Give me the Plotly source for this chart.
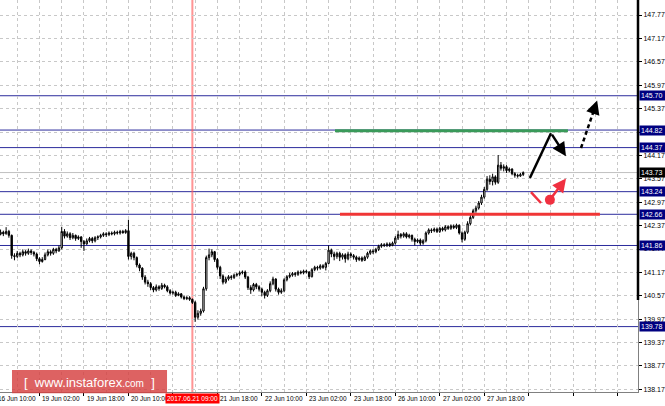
import plotly.graph_objects as go

# ---------------- data ----------------
bars = list(range(191))

opens = [
142.20,142.18,142.15,142.20,142.16,142.22,142.12,141.60,141.58,141.66,
141.62,141.70,141.66,141.72,141.68,141.64,141.52,141.45,141.50,141.62,
141.70,141.66,141.76,141.72,141.80,142.22,142.10,142.16,142.06,142.12,
142.04,142.08,141.96,141.90,141.98,142.04,141.98,142.06,142.08,142.12,
142.16,142.14,142.18,142.16,142.20,142.18,142.22,142.19,142.24,141.58,
141.66,141.55,141.36,141.28,141.05,140.92,140.88,140.78,140.72,140.80,
140.76,140.84,140.80,140.70,140.64,140.66,140.58,140.62,140.54,140.50,
140.52,140.48,140.40,140.02,140.12,140.18,140.75,141.55,141.62,141.70,
141.50,141.30,141.08,140.92,141.00,141.06,141.04,141.10,141.12,141.16,
141.18,141.05,140.78,140.72,140.86,140.80,140.74,140.66,140.58,140.70,
140.88,141.00,140.74,140.66,140.70,140.98,141.06,141.10,141.14,141.12,
141.18,141.16,141.20,141.18,141.06,141.24,141.30,141.28,141.34,141.30,
141.40,141.74,141.64,141.58,141.66,141.56,141.62,141.52,141.64,141.60,
141.56,141.50,141.54,141.48,141.56,141.66,141.72,141.70,141.76,141.84,
141.88,141.86,141.90,141.86,141.92,142.05,142.14,142.10,142.16,142.08,
142.12,142.02,141.96,142.00,141.92,141.98,142.18,142.26,142.24,142.28,
142.22,142.30,142.26,142.34,142.30,142.36,142.32,142.38,142.18,142.02,
142.20,142.42,142.58,142.75,142.82,142.95,143.10,143.30,143.56,143.50,
143.62,143.48,143.92,143.84,143.88,143.78,143.82,143.70,143.66,143.64,
143.68]

highs = [
142.26,142.22,142.27,142.24,142.33,142.26,142.14,141.66,141.72,141.70,
141.76,141.74,141.78,141.76,141.72,141.68,141.56,141.56,141.68,141.76,
141.74,141.80,141.80,141.86,142.34,142.28,142.22,142.20,142.18,142.14,
142.12,142.10,142.00,142.04,142.08,142.08,142.10,142.12,142.16,142.20,
142.20,142.22,142.22,142.24,142.24,142.26,142.26,142.28,142.52,141.70,
141.70,141.58,141.40,141.30,141.10,140.98,140.92,140.82,140.86,140.84,
140.90,140.88,140.84,140.74,140.70,140.70,140.66,140.64,140.58,140.56,
140.56,140.50,140.44,140.20,140.24,140.80,141.60,141.78,141.76,141.72,
141.54,141.34,141.12,141.06,141.10,141.10,141.14,141.16,141.20,141.22,
141.22,141.08,140.84,140.90,140.90,140.84,140.78,140.70,140.74,140.94,
141.06,141.02,140.78,140.76,141.02,141.10,141.16,141.18,141.18,141.22,
141.22,141.24,141.24,141.20,141.28,141.34,141.34,141.38,141.38,141.44,
141.86,141.78,141.70,141.70,141.70,141.66,141.66,141.70,141.68,141.64,
141.60,141.58,141.58,141.60,141.70,141.76,141.76,141.80,141.88,141.92,
141.92,141.94,141.94,141.96,142.10,142.24,142.18,142.20,142.20,142.16,
142.14,142.06,142.04,142.04,142.02,142.22,142.30,142.30,142.32,142.32,
142.34,142.34,142.38,142.38,142.40,142.40,142.42,142.40,142.22,142.24,
142.48,142.64,142.80,142.88,143.00,143.16,143.36,143.64,143.66,143.70,
143.66,144.18,144.00,143.94,143.92,143.86,143.84,143.74,143.70,143.72,
143.76]

lows = [
142.12,142.10,142.12,142.10,142.14,142.06,141.52,141.48,141.54,141.56,
141.58,141.60,141.62,141.62,141.58,141.46,141.38,141.42,141.48,141.58,
141.60,141.62,141.66,141.70,141.76,142.04,142.06,142.00,142.02,141.98,
142.00,141.80,141.72,141.88,141.94,141.92,141.94,142.00,142.04,142.08,
142.08,142.10,142.12,142.12,142.14,142.14,142.16,142.16,141.50,141.50,
141.48,141.30,141.20,140.98,140.86,140.80,140.72,140.66,140.68,140.70,
140.72,140.76,140.66,140.60,140.60,140.54,140.56,140.50,140.46,140.46,
140.44,140.36,139.90,139.96,140.06,140.14,140.70,141.48,141.56,141.44,
141.24,141.00,140.86,140.88,140.96,140.98,141.00,141.06,141.08,141.12,
141.00,140.72,140.62,140.68,140.74,140.68,140.56,140.50,140.54,140.66,
140.84,140.68,140.60,140.62,140.66,140.94,141.02,141.06,141.06,141.08,
141.12,141.12,141.14,141.00,141.04,141.20,141.22,141.24,141.26,141.22,
141.38,141.56,141.48,141.52,141.46,141.50,141.42,141.48,141.54,141.50,
141.44,141.46,141.44,141.46,141.52,141.62,141.64,141.66,141.72,141.80,
141.82,141.82,141.82,141.84,141.88,142.00,142.04,142.06,142.04,142.04,
141.96,141.86,141.92,141.86,141.88,141.94,142.14,142.18,142.20,142.18,
142.18,142.22,142.22,142.26,142.26,142.28,142.28,142.14,141.94,141.98,
142.16,142.38,142.54,142.70,142.78,142.90,143.06,143.26,143.42,143.40,
143.42,143.44,143.78,143.76,143.72,143.74,143.66,143.60,143.60,143.62,
143.64]

closes = [
142.18,142.15,142.20,142.16,142.22,142.12,141.60,141.58,141.66,141.62,
141.70,141.66,141.72,141.68,141.64,141.52,141.45,141.50,141.62,141.70,
141.66,141.76,141.72,141.80,142.22,142.10,142.16,142.06,142.12,142.04,
142.08,141.96,141.90,141.98,142.04,141.98,142.06,142.08,142.12,142.16,
142.14,142.18,142.16,142.20,142.18,142.22,142.19,142.24,141.58,141.66,
141.55,141.36,141.28,141.05,140.92,140.88,140.78,140.72,140.80,140.76,
140.84,140.80,140.70,140.64,140.66,140.58,140.62,140.54,140.50,140.52,
140.48,140.40,140.02,140.12,140.18,140.75,141.55,141.62,141.70,141.50,
141.30,141.08,140.92,141.00,141.06,141.04,141.10,141.12,141.16,141.18,
141.05,140.78,140.72,140.86,140.80,140.74,140.66,140.58,140.70,140.88,
141.00,140.74,140.66,140.70,140.98,141.06,141.10,141.14,141.12,141.18,
141.16,141.20,141.18,141.06,141.24,141.30,141.28,141.34,141.30,141.40,
141.74,141.64,141.58,141.66,141.56,141.62,141.52,141.64,141.60,141.56,
141.50,141.54,141.48,141.56,141.66,141.72,141.70,141.76,141.84,141.88,
141.86,141.90,141.86,141.92,142.05,142.14,142.10,142.16,142.08,142.12,
142.02,141.96,142.00,141.92,141.98,142.18,142.26,142.24,142.28,142.22,
142.30,142.26,142.34,142.30,142.36,142.32,142.38,142.18,142.02,142.20,
142.42,142.58,142.75,142.82,142.95,143.10,143.30,143.56,143.50,143.62,
143.48,143.92,143.84,143.88,143.78,143.82,143.70,143.66,143.64,143.68,
143.73]

y_ticks = [147.77, 147.17, 146.57, 145.97, 145.37, 144.77, 144.17, 143.57,
           142.97, 142.37, 141.77, 141.17, 140.57, 139.97, 139.37, 138.77, 138.17]
y_tick_text = ["147.77", "147.17", "146.57", "145.97", "145.37", "144.77", "144.17", "143.57",
               "142.97", "142.37", "141.77", "141.17", "140.57", "139.97", "139.37", "138.77", "138.17"]

# tick marks every 16 bars; the label at bar 64 is hidden under the red date box
time_tick_bars = [0, 16, 32, 48, 80, 96, 112, 128, 144, 160, 176]
time_tick_labels = ["16 Jun 10:00", "19 Jun 02:00", "19 Jun 18:00", "20 Jun 10:00",
                    "21 Jun 18:00", "22 Jun 10:00", "23 Jun 02:00",
                    "23 Jun 18:00", "26 Jun 10:00", "27 Jun 02:00", "27 Jun 18:00"]

level_prices = [145.70, 144.82, 144.37, 143.24, 142.66, 141.86, 139.78]
level_labels = ["145.70", "144.82", "144.37", "143.24", "142.66", "141.86", "139.78"]
current_price = 143.73
current_label = "143.73"

marker_bar = 71
marker_label = "2017.06.21 09:00"

green_bars = [122.3, 206.1]
green_price = 144.80
red_bars = [124.1, 217.6]
red_price = 142.66

black_path_bars = [192.4, 200.0]
black_path_prices = [143.59, 144.74]
black_tip = (205.4, 144.15)
black_dash_bars = [210.8, 215.4]
black_dash_prices = [144.36, 145.32]
black_dash_tip = (216.6, 145.58)
red_stroke_bars = [192.8, 196.4]
red_stroke_prices = [143.23, 142.95]
red_dot = (199.6, 143.03)
red_tip = (205.4, 143.58)

X_RANGE = [1.8, 231.3]

# ---------------- figure ----------------
FONT = "Liberation Sans, Arial, sans-serif"
fig = go.Figure()

fig.add_trace(go.Candlestick(
    x=bars, open=opens, high=highs, low=lows, close=closes,
    increasing=dict(line=dict(color="#000000", width=1), fillcolor="#ffffff"),
    decreasing=dict(line=dict(color="#000000", width=1), fillcolor="#000000"),
    whiskerwidth=0, hoverinfo="skip", showlegend=False,
))

fig.add_trace(go.Scatter(x=green_bars, y=[green_price, green_price], mode="lines",
                         line=dict(color="#3a9a5a", width=3), hoverinfo="skip", showlegend=False))
fig.add_trace(go.Scatter(x=red_bars, y=[red_price, red_price], mode="lines",
                         line=dict(color="#f03535", width=3), hoverinfo="skip", showlegend=False))

fig.add_trace(go.Scatter(x=black_path_bars, y=black_path_prices, mode="lines",
                         line=dict(color="#000000", width=2.5), hoverinfo="skip", showlegend=False))
fig.add_trace(go.Scatter(x=black_dash_bars, y=black_dash_prices, mode="lines",
                         line=dict(color="#000000", width=2.5, dash="4px,3px"),
                         hoverinfo="skip", showlegend=False))
fig.add_trace(go.Scatter(x=red_stroke_bars, y=red_stroke_prices, mode="lines",
                         line=dict(color="#f03040", width=2.5), hoverinfo="skip", showlegend=False))
fig.add_trace(go.Scatter(x=[red_dot[0]], y=[red_dot[1]], mode="markers",
                         marker=dict(color="#f03040", size=10), hoverinfo="skip", showlegend=False))

annotations = []
annotations.append(dict(x=black_tip[0], y=black_tip[1], ax=black_path_bars[1], ay=black_path_prices[1],
                        xref="x", yref="y", axref="x", ayref="y", text="", showarrow=True,
                        arrowhead=2, arrowsize=1.1, arrowwidth=2.5, arrowcolor="#000000"))
annotations.append(dict(x=black_dash_tip[0], y=black_dash_tip[1], ax=black_dash_bars[1], ay=black_dash_prices[1],
                        xref="x", yref="y", axref="x", ayref="y", text="", showarrow=True,
                        arrowhead=2, arrowsize=1.1, arrowwidth=2.5, arrowcolor="#000000"))
annotations.append(dict(x=red_tip[0], y=red_tip[1], ax=red_dot[0], ay=red_dot[1],
                        xref="x", yref="y", axref="x", ayref="y", text="", showarrow=True,
                        arrowhead=2, arrowsize=1.1, arrowwidth=2.5, arrowcolor="#f03040"))

plot_w_px = 665 - 27
for b, t in zip(time_tick_bars, time_tick_labels):
    if b < X_RANGE[0]:
        # label whose tick lies just left of the visible area: place in paper coords, partly cut off
        px = (b - X_RANGE[0]) / (X_RANGE[1] - X_RANGE[0]) * plot_w_px
        annotations.append(dict(x=0, y=0, xref="paper", yref="paper", text=t, showarrow=False,
                                xanchor="left", yanchor="top", xshift=px + 1, yshift=-1,
                                font=dict(family=FONT, size=6.5, color="#000000")))
    else:
        annotations.append(dict(x=b, y=0, xref="x", yref="paper", text=t, showarrow=False,
                                xanchor="left", yanchor="top", xshift=1, yshift=-1,
                                font=dict(family=FONT, size=6.5, color="#000000")))
annotations.append(dict(x=marker_bar, y=0, xref="x", yref="paper", text=marker_label, showarrow=False,
                        xanchor="center", yanchor="top", yshift=-1, bgcolor="#ff0000", borderpad=1,
                        font=dict(family=FONT, size=6.5, color="#ffffff")))

for p, t in zip(level_prices, level_labels):
    annotations.append(dict(x=1, y=p, xref="paper", yref="y", text=t, showarrow=False,
                            xanchor="left", yanchor="middle", xshift=1, bgcolor="#000080",
                            borderpad=1, width=24, align="left",
                            font=dict(family=FONT, size=7, color="#ffffff")))
annotations.append(dict(x=1, y=current_price, xref="paper", yref="y", text=current_label, showarrow=False,
                        xanchor="left", yanchor="middle", xshift=1, bgcolor="#000000",
                        borderpad=1, width=24, align="left",
                        font=dict(family=FONT, size=7, color="#ffffff")))

annotations.append(dict(x=0.140, y=0.023, xref="paper", yref="paper", showarrow=False,
                        text="[  www.instaforex<span style='font-size:10px'>.com</span>  ]",
                        xanchor="center", yanchor="middle",
                        font=dict(family=FONT, size=13, color="#ffffff")))

shapes = []
for p in level_prices:
    shapes.append(dict(type="line", xref="paper", yref="y", x0=0, x1=1, y0=p, y1=p,
                       line=dict(color="#2c2c9c", width=1), layer="between"))
shapes.append(dict(type="line", xref="paper", yref="y", x0=0, x1=1, y0=current_price, y1=current_price,
                   line=dict(color="#c0c0c0", width=1), layer="between"))
shapes.append(dict(type="line", xref="x", yref="paper", x0=marker_bar, x1=marker_bar, y0=0, y1=1,
                   line=dict(color="rgba(255,90,90,0.65)", width=2), layer="between"))
shapes.append(dict(type="line", xref="paper", yref="paper", x0=1, x1=1, y0=0.235, y1=1,
                   line=dict(color="#000000", width=2.5), layer="above"))
shapes.append(dict(type="rect", xref="paper", yref="paper", x0=0.0188, x1=0.2618, y0=-0.003, y1=0.0561,
                   fillcolor="rgba(214,64,64,0.82)", line=dict(width=0), layer="above"))

fig.update_layout(
    width=665, height=406,
    margin=dict(l=0, r=27, t=0, b=14),
    paper_bgcolor="#ffffff", plot_bgcolor="#ffffff",
    showlegend=False,
    annotations=annotations, shapes=shapes,
    xaxis=dict(range=X_RANGE, rangeslider=dict(visible=False),
               tick0=0, dtick=16, ticks="outside", ticklen=3, tickcolor="#000000",
               showticklabels=False, showgrid=True, gridcolor="#c8c8c8", griddash="3px,3px",
               minor=dict(dtick=8, showgrid=True, gridcolor="#c8c8c8", griddash="3px,3px"),
               showline=True, linecolor="#808080", linewidth=1, zeroline=False, fixedrange=True),
    yaxis=dict(range=[138.103, 148.155], side="right", tickmode="array",
               tickvals=y_ticks, ticktext=y_tick_text, ticks="outside", ticklen=3,
               tickcolor="#000000", tickfont=dict(family=FONT, size=7, color="#000000"),
               showgrid=True, gridcolor="#c8c8c8", griddash="3px,3px",
               showline=True, linecolor="#808080", linewidth=1, zeroline=False, fixedrange=True),
)

fig.write_html("out.html", config={"displayModeBar": False},
               post_script="document.body.style.margin='0px';")
